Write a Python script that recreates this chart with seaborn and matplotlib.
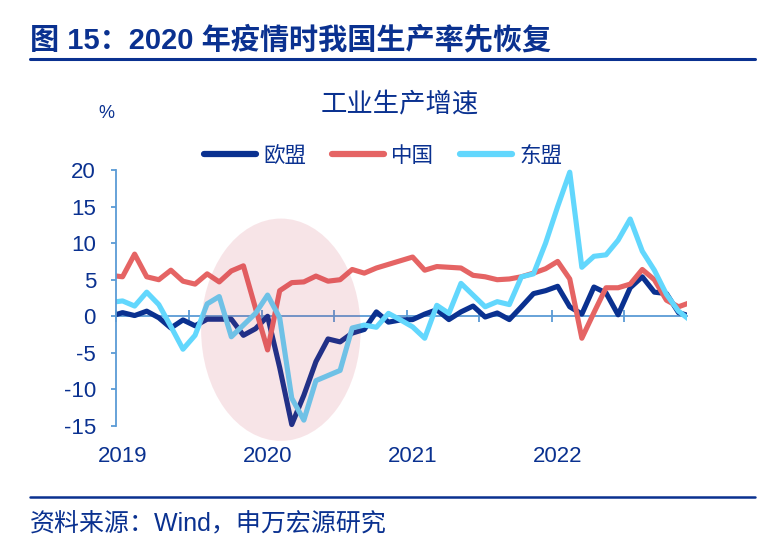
import matplotlib
matplotlib.use("Agg")
import matplotlib.pyplot as plt
from matplotlib.patches import Ellipse
from matplotlib.lines import Line2D
import seaborn as sns
import pandas as pd

# ---------------- data ----------------
# month index: -1 = Dec 2018, 0 = Jan 2019 ... 47 = Dec 2022
month_index = list(range(-1, 48))

eu = [0.0, 0.5, 0.1, 0.7, -0.2, -1.6, -0.5, -1.3, -0.4, -0.4, -0.4, -2.6, -1.7,
      0.0, -7.0, -14.8, -10.8, -6.2, -3.1, -3.5, -2.3, -1.8, 0.6, -0.8, -0.5,
      -0.45, 0.3, 0.9, -0.45, 0.6, 1.4, -0.1, 0.45, -0.45, 1.3, 3.1, 3.5,
      4.1, 1.3, 0.3, 4.0, 3.2, 0.2, 3.9, 5.4, 3.3, 3.1, 0.5, 0.0]

cn = [5.6, 5.4, 8.5, 5.4, 5.0, 6.3, 4.8, 4.4, 5.8, 4.7, 6.2, 6.9, 1.1,
      -4.6, 3.5, 4.6, 4.7, 5.5, 4.8, 5.0, 6.4, 5.9, 6.6, 7.1, 7.6,
      8.1, 6.3, 6.8, 6.7, 6.6, 5.6, 5.4, 5.0, 5.1, 5.4, 5.9, 6.5,
      7.5, 5.1, -3.0, 0.5, 3.9, 3.9, 4.4, 6.4, 5.0, 2.2, 1.3, 1.9]

asean = [1.9, 2.1, 1.4, 3.3, 1.6, -1.4, -4.5, -2.6, 1.7, 2.7, -2.8, -1.2, 0.4,
         2.9, -0.2, -11.2, -14.2, -8.8, -8.1, -7.4, -1.6, -1.2, -1.5, 0.4, -0.5,
         -1.45, -3.0, 1.5, 0.4, 4.5, 2.9, 1.3, 2.0, 1.6, 5.4, 5.8, 10.0,
         15.0, 19.7, 6.7, 8.2, 8.4, 10.4, 13.3, 8.9, 6.3, 3.0, 0.7, -0.6]

series_names = ["欧盟", "中国", "东盟"]
year_ticks = [0, 12, 24, 36]
year_labels = ["2019", "2020", "2021", "2022"]
half_year_ticks = [-0.5, 5.5, 11.5, 17.5, 23.5, 29.5, 35.5, 41.5]
y_ticks = [20, 15, 10, 5, 0, -5, -10, -15]

title = "图 15：2020 年疫情时我国生产率先恢复"
subtitle = "工业生产增速"
unit = "%"
source = "资料来源：Wind，申万宏源研究"

# ---------------- styling ----------------
navy = "#0A3190"
red = "#E56464"
cyan = "#62D7FD"
text_blue = "#0A3190"
axis_blue = "#5B9BD5"
palette = {series_names[0]: navy, series_names[1]: red, series_names[2]: cyan}

sns.set_theme(style="white")
plt.rcParams["font.family"] = ["Liberation Sans", "Noto Sans CJK SC"]

df = pd.DataFrame({
    "month": month_index * 3,
    "value": eu + cn + asean,
    "region": [series_names[0]] * len(eu) + [series_names[1]] * len(cn)
              + [series_names[2]] * len(asean),
})

W, H = 771, 558
fig = plt.figure(figsize=(W / 100, H / 100), dpi=100)

ymin, ymax = -15.6, 20.6
x0_px, x1_px = 116.5, 687.0
ytop_px, ybot_px = 170 - 0.6 * 7.314, 426 + 0.6 * 7.314
ax = fig.add_axes([x0_px / W, 1 - ybot_px / H, (x1_px - x0_px) / W, (ybot_px - ytop_px) / H])

sns.lineplot(data=df, x="month", y="value", hue="region", palette=palette,
             hue_order=series_names, linewidth=3.7, ax=ax, legend=True,
             sort=False)
for ln in ax.lines:
    ln.set_solid_joinstyle("round")
    ln.set_solid_capstyle("butt")

ax.set_xlim(-0.5, 46.7)
ax.set_ylim(ymin, ymax)

# highlight ellipse over the 2020 shock
ell = Ellipse((13.1, -1.84), width=13.2, height=30.4, facecolor="#C8304C",
              edgecolor="none", alpha=0.13, zorder=5, clip_on=False)
ax.add_patch(ell)

# spines
for s in ["top", "right", "bottom"]:
    ax.spines[s].set_visible(False)
ax.spines["left"].set_color(axis_blue)
ax.spines["left"].set_linewidth(1.3)
ax.spines["left"].set_bounds(-15, 20)

ax.set_yticks(y_ticks)
ax.set_yticklabels([str(v) for v in y_ticks])
ax.tick_params(axis="y", colors=axis_blue, length=3.8, width=1.3, direction="out",
               pad=11, labelsize=16, labelcolor=text_blue, left=True)

ax.set_xticks(year_ticks)
ax.set_xticklabels(year_labels)
ax.tick_params(axis="x", length=0, pad=11, labelsize=16, labelcolor=text_blue)
ax.set_xlabel("")
ax.set_ylabel("")

# zero axis with half-year tick marks
zero_frac = (0 - ymin) / (ymax - ymin)
sec = ax.secondary_xaxis(zero_frac)
sec.set_xticks(half_year_ticks)
sec.set_xticklabels([""] * len(half_year_ticks))
sec.spines["bottom"].set_color(axis_blue)
sec.spines["bottom"].set_linewidth(1.3)
sec.tick_params(axis="x", colors=axis_blue, length=8, width=1.3, direction="inout")
ax.grid(False)

# legend
new_handles = [Line2D([0], [0], color=palette[n], lw=4.5, solid_capstyle="round")
               for n in series_names]
ax.legend(new_handles, series_names, loc="center", ncol=3, frameon=False,
          bbox_to_anchor=(383 / W, 1 - 156 / H), bbox_transform=fig.transFigure,
          fontsize=15.5, handlelength=2.4, handletextpad=0.35, columnspacing=1.2,
          labelcolor=text_blue)

# texts
fig.text(30 / W, 1 - 40 / H, title, fontsize=21, fontweight="bold", color=text_blue,
         ha="left", va="center")
fig.add_artist(Line2D([30 / W, 755 / W], [1 - 59 / H] * 2, color=text_blue, lw=2.2))
fig.text(400 / W, 1 - 104 / H, subtitle, fontsize=19, color=text_blue,
         ha="center", va="center")
fig.text(106 / W, 1 - 114 / H, unit, fontsize=13, color=text_blue,
         ha="center", va="center")
fig.add_artist(Line2D([30 / W, 755 / W], [1 - 497 / H] * 2, color=text_blue, lw=1.8))
fig.text(30 / W, 1 - 524 / H, source, fontsize=18, color=text_blue,
         ha="left", va="center")

fig.savefig("out.png", dpi=100, facecolor="white")
